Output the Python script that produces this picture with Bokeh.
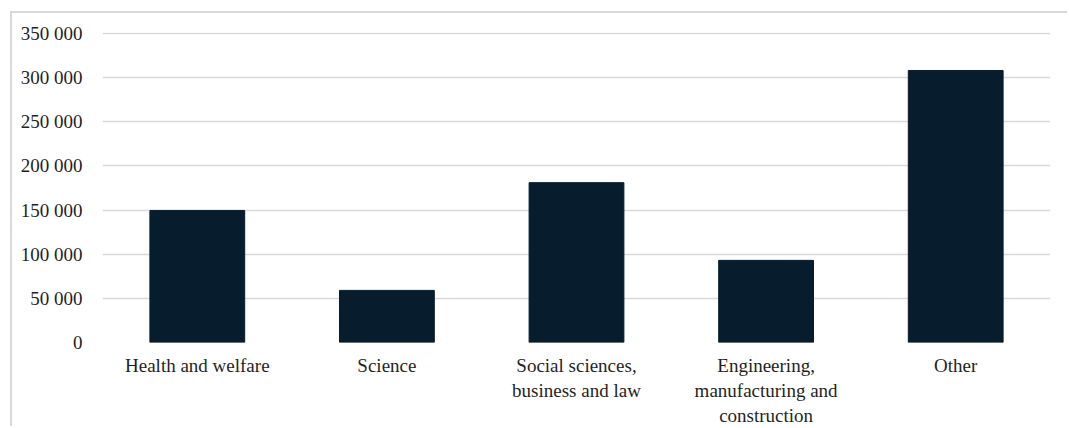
from bokeh.plotting import figure
from bokeh.models import Range1d, FixedTicker
from bokeh.embed import file_html
from bokeh.resources import INLINE

categories = ["Health and welfare", "Science", "Social sciences,\nbusiness and law",
              "Engineering,\nmanufacturing and\nconstruction", "Other"]
values = [149500, 59000, 181000, 93000, 308000]
y_ticks = [0, 50000, 100000, 150000, 200000, 250000, 300000, 350000]
y_labels = ["0", "50 000", "100 000", "150 000", "200 000", "250 000", "300 000", "350 000"]

FONT = "Liberation Serif"
TEXT = "#1f1f1f"
GRID = "#d9d9d9"

p = figure(x_range=categories, y_range=Range1d(0, 351000),
           width=1057, height=415, output_backend="svg", toolbar_location=None,
           min_border_left=90, min_border_right=19, min_border_top=19, min_border_bottom=80)
p.margin = (11, 0, 0, 10)
p.styles = {"border-top": "2px solid #d9d9d9", "border-left": "2px solid #d9d9d9"}

p.vbar(x=categories, top=values, width=0.5, color="#071d2d")

p.outline_line_color = None
p.xgrid.grid_line_color = None
p.ygrid.grid_line_color = GRID
p.ygrid.grid_line_width = 1.5
p.ygrid.ticker = FixedTicker(ticks=y_ticks)

p.yaxis.ticker = FixedTicker(ticks=y_ticks)
p.yaxis.major_label_overrides = {t: s for t, s in zip(y_ticks, y_labels)}
p.yaxis.axis_line_color = None
p.yaxis.major_tick_line_color = None
p.yaxis.minor_tick_line_color = None
p.yaxis.major_label_standoff = 14

p.xaxis.axis_line_color = None
p.xaxis.major_tick_line_color = None
p.xaxis.major_label_standoff = 6

for ax in (p.xaxis[0], p.yaxis[0]):
    ax.major_label_text_font = FONT
    ax.major_label_text_font_size = "19px"
    ax.major_label_text_color = TEXT

open("out.html", "w").write(file_html(p, INLINE))
